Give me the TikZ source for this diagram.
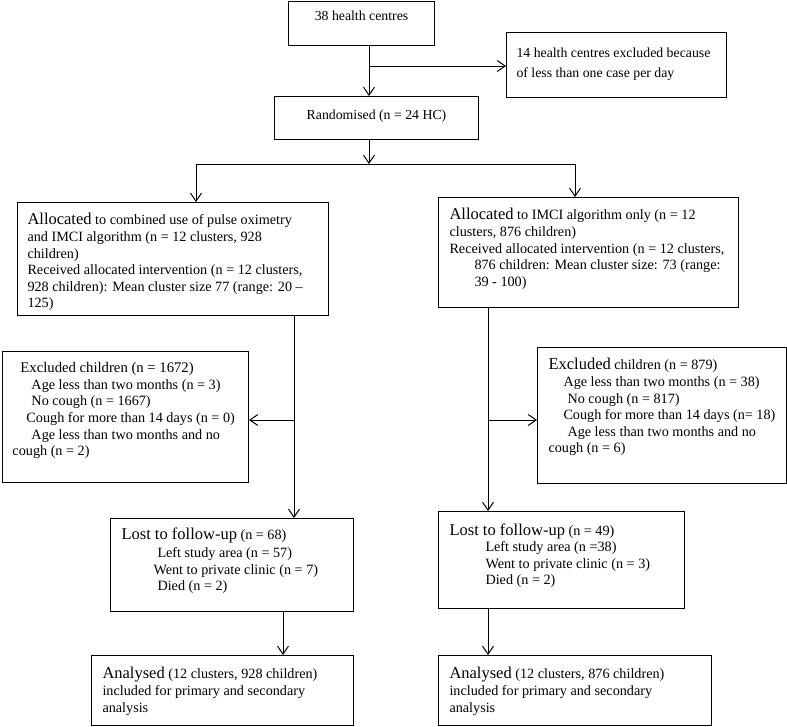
\documentclass[tikz,border=0pt]{standalone}
\usepackage{fontspec}
\setmainfont{Liberation Serif}
\usetikzlibrary{arrows.meta}

% larger first word of a box, and a fixed-size text block
\newcommand{\headword}[1]{{\fontsize{16.5}{16.6}\selectfont #1}}
\newcommand{\boxtext}[3]{\parbox[t][#2][t]{#1}{#3}}

\tikzset{
  flowbox/.style={draw, line width=1pt, anchor=north west, inner xsep=10pt,
    font=\fontsize{14.2}{16.6}\selectfont},
  topbox/.style={flowbox, font=\fontsize{13.8}{16.6}\selectfont},
}

\begin{document}
\begin{tikzpicture}[x=1pt, y=-1pt, line width=1pt, >={Straight Barb[length=8pt,width=11pt]}]
    \useasboundingbox (0,0) rectangle (787,726);

    % Top of the chart:
    \node[topbox, inner ysep=9pt] (centres) at (288,1)
      {\boxtext{126pt}{26pt}{\centering 38 health centres}};
    \node[topbox, inner ysep=15pt] (hcexcl) at (506,32)
      {\boxtext{200pt}{35pt}{\baselineskip=20pt 14 health centres excluded because\\
       of less than one case per day}};
    \node[topbox, inner ysep=13pt] (random) at (274,96)
      {\boxtext{184pt}{17pt}{\centering Randomised (n = 24 HC)}};

    % Allocation:
    \node[flowbox, inner ysep=11pt] (allocL) at (17,202)
      {\boxtext{291pt}{91pt}{\headword{Allocated} to combined use of pulse oximetry\\
       and IMCI algorithm (n = 12 clusters, 928\\
       children)\\
       Received allocated intervention (n = 12 clusters,\\
       928 children): Mean cluster size 77 (range: 20 –\\
       125)}};
    \node[flowbox, inner ysep=11pt, inner xsep=11pt] (allocR) at (438,197)
      {\boxtext{278pt}{88pt}{\headword{Allocated} to IMCI algorithm only (n = 12\\
       clusters, 876 children)\\
       Received allocated intervention (n = 12 clusters,\\
       \hspace*{25pt}876 children: Mean cluster size: 73 (range:\\
       \hspace*{25pt}39 - 100)}};

    % Exclusions:
    \node[flowbox, inner ysep=11pt] (exclL) at (2,351)
      {\boxtext{226pt}{109pt}{\hspace*{8pt}{\fontsize{14.7}{16.4}\selectfont Excluded children (n = 1672)}\\
       \hspace*{19pt}Age less than two months (n = 3)\\
       \hspace*{19pt}No cough (n = 1667)\\
       \hspace*{14pt}Cough for more than 14 days (n = 0)\\
       \hspace*{19pt}Age less than two months and no\\
       cough (n = 2)}};
    \node[flowbox, inner ysep=11pt, inner xsep=11pt] (exclR) at (537,347)
      {\boxtext{227pt}{114pt}{\headword{Excluded} children (n = 879)\\
       \hspace*{15pt}Age less than two months (n = 38)\\
       \hspace*{19pt}No cough (n = 817)\\
       \hspace*{15pt}Cough for more than 14 days (n= 18)\\
       \hspace*{19pt}Age less than two months and no\\
       cough (n = 6)}};

    % Follow-up:
    \node[flowbox, inner ysep=9pt, inner xsep=11pt] (lostL) at (110,518)
      {\boxtext{221pt}{75pt}{\headword{Lost to follow-up} (n = 68)\\[2pt]
       \hspace*{36pt}Left study area (n = 57)\\
       \hspace*{32pt}Went to private clinic (n = 7)\\
       \hspace*{36pt}Died (n = 2)}};
    \node[flowbox, inner ysep=12pt, inner xsep=11pt] (lostR) at (438,511)
      {\boxtext{224pt}{73pt}{\headword{Lost to follow-up} (n = 49)\\
       \hspace*{36pt}Left study area (n =38)\\
       \hspace*{36pt}Went to private clinic (n = 3)\\
       \hspace*{36pt}Died (n = 2)}};

    % Analysis:
    \node[flowbox, inner ysep=12pt, inner xsep=11pt] (analL) at (91,655)
      {\boxtext{240pt}{46pt}{\headword{Analysed} (12 clusters, 928 children)\\
       included for primary and secondary\\
       analysis}};
    \node[flowbox, inner ysep=12pt, inner xsep=11pt] (analR) at (438,655)
      {\boxtext{251pt}{46pt}{\headword{Analysed} (12 clusters, 876 children)\\
       included for primary and secondary\\
       analysis}};

    % Connectors:
    \coordinate (split) at (369,66);
    \draw [->] (centres.south -| split) -- (random.north -| split);
    \draw [->] (split) -- (split -| hcexcl.west);

    \coordinate (fork) at (369,164);
    \coordinate (forkL) at (196,164);
    \coordinate (forkR) at (575,164);
    \draw [->] (random.south -| fork) -- (fork);
    \draw (forkL) -- (forkR);
    \draw [->] (forkL) -- (allocL.north -| forkL);
    \draw [->] (forkR) -- (allocR.north -| forkR);

    \coordinate (midL) at (294,420);
    \coordinate (midR) at (488,420);
    \draw [->] (allocL.south -| midL) -- (lostL.north -| midL);
    \draw [->] (midL) -- (midL -| exclL.east);
    \draw [->] (allocR.south -| midR) -- (lostR.north -| midR);
    \draw [->] (midR) -- (midR -| exclR.west);

    \coordinate (lowL) at (283,630);
    \coordinate (lowR) at (488,630);
    \draw [->] (lostL.south -| lowL) -- (analL.north -| lowL);
    \draw [->] (lostR.south -| lowR) -- (analR.north -| lowR);
\end{tikzpicture}
\end{document}
